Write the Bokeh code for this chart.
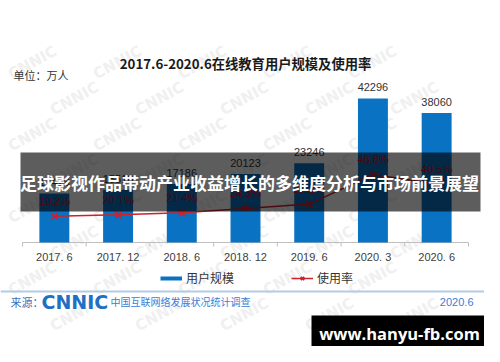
import math
from bokeh.plotting import figure
from bokeh.models import (Range1d, Label, BoxAnnotation, Legend, LegendItem,
                          ColumnDataSource)
from bokeh.core.properties import value
from bokeh.embed import file_html
from bokeh.resources import INLINE

# ---- data ----
categories = ["2017. 6", "2017. 12", "2018. 6", "2018. 12", "2019. 6", "2020. 3", "2020. 6"]
users = [14426, 15518, 17186, 20123, 23246, 42296, 38060]          # 万人
rate = [19.2, 20.1, 21.4, 24.3, 27.2, 46.8, 40.5]                  # %
user_labels = [str(v) for v in users]
rate_labels = [f"{v}%" for v in rate]

title_text = "2017.6-2020.6在线教育用户规模及使用率"
unit_text = "单位：万人"
banner_text = "足球影视作品带动产业收益增长的多维度分析与市场前景展望"
legend_names = ["用户规模", "使用率"]
source_prefix = "来源："
source_logo = "CNNIC"
source_name = "中国互联网络发展状况统计调查"
source_date = "2020.6"
site_text = "www.hanyu-fb.com"

BLUE = "#0a72c2"
RED = "#d0202a"
CJK = "Noto Sans CJK SC"
W, H = 484, 346

n = len(categories)
centers = [i + 0.5 for i in range(n)]
bounds = list(range(n + 1))
src = ColumnDataSource(dict(x=centers, users=users, rate=rate,
                            ul=user_labels, rl=rate_labels, cat=categories,
                            zero=[0] * n))

p = figure(width=W, height=H, output_backend="svg", toolbar_location=None,
           x_range=Range1d(-0.3453, 7.2511), y_range=Range1d(-30547, 71080),
           min_border=0, min_border_left=0, min_border_right=0,
           min_border_top=0, min_border_bottom=0)
p.extra_y_ranges = {"rate": Range1d(-67.04, 161.95)}
p.outline_line_color = None
p.grid.visible = False
p.axis.visible = False
p.background_fill_color = "white"
p.border_fill_color = "white"

# watermarks (decorative), kept fully inside the canvas
for r in range(8):
    for c in range(6):
        sx = 32 + c * 85 + (r % 2) * 42
        if sx > 452:
            continue
        sy = H - (62 + r * 36)
        p.add_layout(Label(x=sx, y=sy, x_units="screen", y_units="screen",
                           text="CNNIC", angle=0.5, text_font="DejaVu Sans",
                           text_font_style="bold", text_font_size="15px",
                           text_color="#f0f0f0", text_align="center",
                           text_baseline="middle", level="underlay"))

# category axis: baseline, boundary ticks and labels
p.line(x=[bounds[0], bounds[-1]], y=[0, 0], line_color="#bfbfbf", line_width=1)
p.ray(x=bounds, y=[0] * len(bounds), length=4, length_units="screen",
      angle=-math.pi / 2, line_color="#bfbfbf", line_width=1)
p.text(x="x", y="zero", text="cat", source=src, text_align="center",
       text_baseline="middle", y_offset=15, text_font=value("Liberation Sans"),
       text_font_size="11px", text_color="#404040")

bars = p.vbar(x="x", top="users", width=0.47, source=src, fill_color=BLUE,
              line_color=None)
p.text(x="x", y="users", text="ul", source=src, text_align="center",
       text_baseline="middle", y_offset=-11, text_font=value("Liberation Sans"),
       text_font_size="11px", text_color="#333333")

ln = p.line(x="x", y="rate", source=src, y_range_name="rate", line_color=RED,
            line_width=1.5)
mk = p.scatter(x="x", y="rate", source=src, y_range_name="rate", marker="x",
               size=9, line_color=RED, line_width=1.8)
p.text(x="x", y="rate", text="rl", source=src, y_range_name="rate",
       text_align="center", text_baseline="middle", y_offset=-15,
       text_font=value("Liberation Sans"), text_font_size="11px",
       text_color="#d01020")

# legend (a blank line renderer stands in for the bars' line-style key)
dummy = p.line(x=[0.0], y=[float("nan")], line_color=BLUE, line_width=4)
legend = Legend(items=[LegendItem(label=legend_names[0], renderers=[dummy]),
                       LegendItem(label=legend_names[1], renderers=[ln, mk])],
                location=(160, 60), orientation="horizontal", spacing=57,
                padding=0, margin=0, glyph_width=22, glyph_height=12,
                label_height=12, label_standoff=4, border_line_color=None,
                background_fill_alpha=0, label_text_font=CJK,
                label_text_font_size="12px", label_text_color="#333333")
p.add_layout(legend, "center")

# titles
p.add_layout(Label(x=245, y=H - 63, x_units="screen", y_units="screen", text=title_text,
                   text_font=CJK, text_font_style="bold", text_font_size="13.3px",
                   text_color="#1a1a1a", text_align="center", text_baseline="middle"))
p.add_layout(Label(x=13, y=H - 74, x_units="screen", y_units="screen", text=unit_text,
                   text_font=CJK, text_font_size="11px",
                   text_color="#333333", text_align="left", text_baseline="middle"))

# banner overlay
p.add_layout(BoxAnnotation(left=20, right=480, top=H - 152, bottom=H - 211,
                           left_units="screen", right_units="screen",
                           top_units="screen", bottom_units="screen",
                           fill_color="black", fill_alpha=0.635, line_color=None,
                           level="overlay"))
p.add_layout(Label(x=249, y=H - 181.5, x_units="screen", y_units="screen",
                   text=banner_text, text_font=CJK, text_font_style="bold",
                   text_font_size="17px", text_color="white", text_align="center",
                   text_baseline="middle", level="overlay"))

# source line
p.add_layout(BoxAnnotation(left=0, right=W, top=H - 290, bottom=H - 292,
                           left_units="screen", right_units="screen",
                           top_units="screen", bottom_units="screen",
                           fill_color="#b4cbe8", fill_alpha=1.0, line_color=None))
p.add_layout(Label(x=10, y=H - 301, x_units="screen", y_units="screen", text=source_prefix,
                   text_font=CJK, text_font_size="11px", text_color="#3f6fb5",
                   text_baseline="middle"))
p.add_layout(Label(x=41, y=H - 301, x_units="screen", y_units="screen", text=source_logo,
                   text_font="DejaVu Sans", text_font_style="bold",
                   text_font_size="19px", text_color="#1f6fc5", text_baseline="middle"))
p.add_layout(Label(x=110, y=H - 301, x_units="screen", y_units="screen", text=source_name,
                   text_font=CJK, text_font_size="10px", text_color="#3b7dd8",
                   text_baseline="middle"))
p.add_layout(Label(x=473, y=H - 301, x_units="screen", y_units="screen", text=source_date,
                   text_font="Liberation Sans", text_font_size="11px",
                   text_color="#3b7dd8", text_align="right", text_baseline="middle"))

# site box
p.add_layout(BoxAnnotation(left=311, right=W, top=H - 315, bottom=0,
                           left_units="screen", right_units="screen",
                           top_units="screen", bottom_units="screen",
                           fill_color="black", fill_alpha=1.0, line_color=None,
                           level="overlay"))
p.add_layout(Label(x=399, y=H - 333, x_units="screen", y_units="screen", text=site_text,
                   text_font="Open Sans", text_font_style="bold",
                   text_font_size="16.5px", text_color="white", text_align="center",
                   text_baseline="middle", level="overlay"))

open("out.html", "w").write(file_html(p, INLINE))
